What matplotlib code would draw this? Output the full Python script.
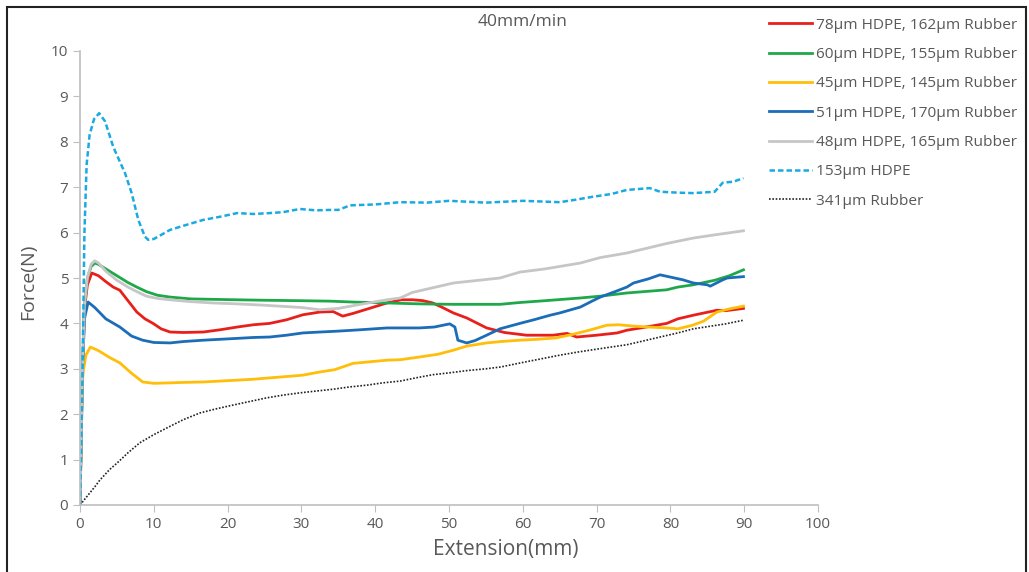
import matplotlib
matplotlib.use("Agg")
import matplotlib.pyplot as plt
from matplotlib.patches import Rectangle

plt.rcParams['font.family'] = ['Open Sans', 'DejaVu Sans']

# force / extension curves, 40mm/min
x_78 = [0, 0.3, 0.6, 1.0, 1.6, 2.5, 3.5, 4.5, 5.4, 6.5, 7.7, 8.8, 9.9, 11, 12.2, 14, 16.7, 19, 21.3,
        23.5, 25.7, 28, 30.2, 32.5, 34.3, 35.6, 37, 39, 41.6, 43.5, 45.1, 46.5, 47.8, 49, 50.6, 52.4,
        55.1, 57.5, 60.5, 62, 64.1, 66, 67.3, 70, 72.8, 74.1, 76, 79.5, 81, 83.1, 86.3, 87.5, 89.9]
y_78 = [0, 2.5, 4.3, 4.85, 5.11, 5.05, 4.92, 4.8, 4.73, 4.5, 4.25, 4.1, 4.0, 3.88, 3.81, 3.8, 3.81,
        3.86, 3.92, 3.97, 4.0, 4.08, 4.19, 4.25, 4.26, 4.16, 4.22, 4.32, 4.45, 4.52, 4.52, 4.5, 4.45,
        4.36, 4.23, 4.12, 3.9, 3.8, 3.74, 3.74, 3.74, 3.78, 3.7, 3.74, 3.79, 3.85, 3.9, 4.0, 4.1, 4.18,
        4.29, 4.28, 4.33]

x_60 = [0, 0.3, 0.6, 1.0, 1.5, 2.0, 2.5, 3.5, 5.0, 6.5, 7.7, 9, 10.5, 12.2, 15, 18, 21.3, 25, 30,
        33.9, 37, 41.6, 46, 50.6, 56.9, 59.6, 63, 67.8, 70.5, 74.1, 79.5, 81, 83.1, 86, 88, 89.9]
y_60 = [0, 2.8, 4.4, 5.0, 5.25, 5.33, 5.3, 5.2, 5.05, 4.9, 4.8, 4.7, 4.62, 4.58, 4.54, 4.53, 4.52,
        4.51, 4.5, 4.49, 4.47, 4.45, 4.43, 4.42, 4.42, 4.46, 4.5, 4.56, 4.6, 4.67, 4.74, 4.8, 4.85,
        4.95, 5.05, 5.18]

x_45 = [0, 0.2, 0.4, 0.8, 1.4, 2.5, 4, 5.4, 7, 8.5, 10, 12.2, 14, 16.7, 19, 21.3, 23.5, 25.7, 28,
        30.2, 32.5, 34.5, 37, 39, 41.6, 43.4, 46, 48.5, 50.6, 52.4, 55.1, 57, 59.6, 62, 64.5, 66.8,
        69, 71.4, 73, 75, 77, 79.5, 81, 83, 84.5, 86.3, 88, 89.9]
y_45 = [0, 2.0, 2.9, 3.3, 3.48, 3.4, 3.25, 3.13, 2.9, 2.71, 2.68, 2.69, 2.7, 2.71, 2.73, 2.75, 2.77,
        2.8, 2.83, 2.86, 2.93, 2.98, 3.12, 3.15, 3.19, 3.2, 3.26, 3.32, 3.41, 3.5, 3.57, 3.6, 3.63,
        3.65, 3.68, 3.76, 3.85, 3.96, 3.97, 3.94, 3.92, 3.9, 3.88, 3.96, 4.05, 4.25, 4.32, 4.38]

x_51 = [0, 0.3, 0.6, 1.1, 2.0, 3.5, 5.4, 7, 8.5, 10, 12.2, 14, 16.7, 19, 21.3, 23.5, 25.7, 28, 30.2,
        32.5, 35, 38, 41.6, 43.4, 46, 48, 50.1, 50.8, 51.2, 52.4, 53.5, 55.1, 56.9, 59.6, 61.5, 63.7,
        65, 67.8, 69.5, 70.5, 72.5, 74.1, 75, 77, 78.6, 80, 81.7, 83.1, 85, 85.4, 87.1, 87.7, 89.9]
y_51 = [0, 2.8, 4.1, 4.47, 4.35, 4.1, 3.92, 3.72, 3.63, 3.58, 3.57, 3.6, 3.63, 3.65, 3.67, 3.69, 3.7,
        3.74, 3.79, 3.81, 3.83, 3.86, 3.9, 3.9, 3.9, 3.92, 3.99, 3.92, 3.63, 3.57, 3.62, 3.74, 3.88,
        4.0, 4.08, 4.18, 4.23, 4.36, 4.5, 4.58, 4.7, 4.8, 4.89, 4.98, 5.07, 5.02, 4.96, 4.89, 4.85,
        4.82, 4.96, 5.0, 5.03]

x_48 = [0, 0.3, 0.6, 1.0, 1.5, 2.0, 2.5, 3.5, 5.0, 6.5, 7.7, 9, 10.5, 12.2, 15, 18, 21.3, 25, 30,
        32.5, 35, 38, 41.6, 43.4, 45, 50.6, 56.9, 59.6, 63, 67.8, 70.5, 74.1, 79.5, 83.1, 86, 89.9]
y_48 = [0, 2.8, 4.4, 5.0, 5.3, 5.38, 5.33, 5.15, 4.95, 4.8, 4.7, 4.6, 4.55, 4.52, 4.48, 4.45, 4.43,
        4.4, 4.35, 4.3, 4.33, 4.42, 4.52, 4.56, 4.68, 4.89, 5.0, 5.13, 5.2, 5.33, 5.45, 5.55, 5.76,
        5.88, 5.95, 6.04]

x_153 = [0, 0.35, 0.6, 0.9, 1.3, 1.9, 2.6, 3.4, 4.5, 5.3, 6.1, 7.0, 7.9, 8.8, 9.25, 10, 11, 12.2, 14,
         16.7, 19, 21.3, 23.5, 25.7, 27.5, 29.8, 32, 33.9, 35, 36.6, 40, 43.4, 47, 50, 55, 60, 65,
         67, 69.5, 72, 74.1, 77.2, 78.6, 81, 83.1, 86, 87.1, 88.5, 89.9]
y_153 = [0, 3.0, 6.0, 7.5, 8.15, 8.5, 8.63, 8.45, 7.89, 7.6, 7.31, 6.87, 6.28, 5.91, 5.84, 5.86, 5.95,
         6.06, 6.15, 6.28, 6.35, 6.43, 6.41, 6.43, 6.45, 6.52, 6.49, 6.5, 6.5, 6.6, 6.62, 6.67, 6.66,
         6.7, 6.66, 6.7, 6.67, 6.72, 6.79, 6.85, 6.94, 6.98, 6.9, 6.88, 6.87, 6.9, 7.1, 7.12, 7.2]

x_341 = [0, 1, 2, 2.7, 4, 5, 6.5, 8.1, 10, 11.8, 14, 16.3, 18.5, 20.7, 23, 25.3, 27.5, 29.8, 32,
         34.3, 36.5, 38.9, 41, 43.4, 45.5, 47.8, 50, 52.4, 55, 57, 60, 62.5, 65, 67.5, 69.5, 72, 74.1,
         76.5, 78.6, 81, 83.1, 85.5, 87.5, 89.9]
y_341 = [0, 0.2, 0.4, 0.55, 0.78, 0.92, 1.15, 1.37, 1.55, 1.7, 1.88, 2.03, 2.12, 2.2, 2.28, 2.36,
         2.42, 2.47, 2.51, 2.55, 2.6, 2.64, 2.69, 2.73, 2.8, 2.87, 2.91, 2.96, 3.0, 3.04, 3.14, 3.22,
         3.3, 3.37, 3.42, 3.48, 3.53, 3.62, 3.7, 3.79, 3.88, 3.94, 3.99, 4.07]

labels = ['78\u00b5m HDPE, 162\u00b5m Rubber', '60\u00b5m HDPE, 155\u00b5m Rubber',
          '45\u00b5m HDPE, 145\u00b5m Rubber', '51\u00b5m HDPE, 170\u00b5m Rubber',
          '48\u00b5m HDPE, 165\u00b5m Rubber', '153\u00b5m HDPE', '341\u00b5m Rubber']

fig = plt.figure(figsize=(10.29, 5.72), dpi=100)
ax = fig.add_axes([80/1029, 1-505/572, 738/1029, 454/572])

lw = 2.0
ax.plot(x_78, y_78, color='#E8201C', lw=lw, label=labels[0])
ax.plot(x_60, y_60, color='#1FA84A', lw=lw, label=labels[1])
ax.plot(x_45, y_45, color='#FFBE0A', lw=lw, label=labels[2])
ax.plot(x_51, y_51, color='#1C6DB8', lw=lw, label=labels[3])
ax.plot(x_48, y_48, color='#C6C6C6', lw=lw, label=labels[4])
ax.plot(x_153, y_153, color='#1AAAE2', lw=1.8, ls=(0, (2.2, 1.2)), label=labels[5])
ax.plot(x_341, y_341, color='#222222', lw=1.2, ls=(0, (1, 1)), label=labels[6])

ax.set_xlim(0, 100)
ax.set_ylim(0, 10)
ax.set_xticks(range(0, 101, 10))
ax.set_yticks(range(0, 11))
for s in ['top', 'right']:
    ax.spines[s].set_visible(False)
for s in ['left', 'bottom']:
    ax.spines[s].set_color('#BFBFBF')
    ax.spines[s].set_linewidth(1.2)
ax.tick_params(direction='out', length=5, color='#BFBFBF', labelcolor='#595959', labelsize=11)

fig.text(28/1029, 1-282/572, 'Force(N)', rotation=90, ha='center', va='center',
         fontsize=14, color='#595959')
fig.text(506/1029, 1-549/572, 'Extension(mm)', ha='center', va='center',
         fontsize=15, color='#595959')
fig.text(523/1029, 1-22/572, '40mm/min', ha='center', va='center',
         fontsize=12.5, color='#595959')

fig.legend(loc='upper left', bbox_to_anchor=(761/1029, 1-10/572), frameon=False,
           fontsize=11.1, handlelength=2.8, handletextpad=0.25, labelspacing=0.93,
           borderpad=0, labelcolor='#595959')

fig.patches.append(Rectangle((7/1029, -0.05), 1019/1029, 1.05-7/572, transform=fig.transFigure,
                             fill=False, edgecolor='#222222', lw=1.5))

fig.savefig('out.png', dpi=100)
